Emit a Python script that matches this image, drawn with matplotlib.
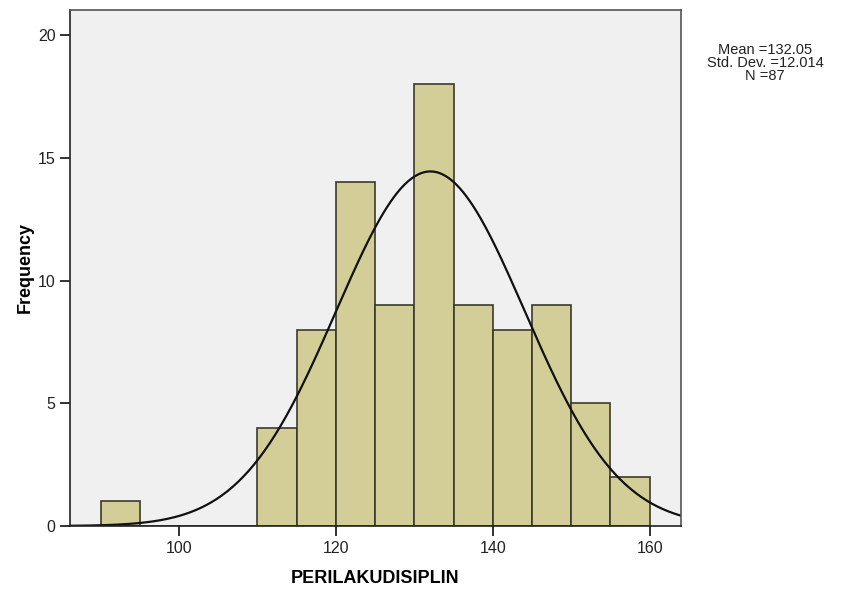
import numpy as np
import matplotlib
matplotlib.use("Agg")
import matplotlib.pyplot as plt

plt.rcParams['font.family'] = ['Liberation Sans', 'DejaVu Sans']

# histogram bins (width 5) and counts
bin_edges = [90, 95, 100, 105, 110, 115, 120, 125, 130, 135, 140, 145, 150, 155, 160]
counts = [1, 0, 0, 0, 4, 8, 14, 9, 18, 9, 8, 9, 5, 2]
mean = 132.05
std = 12.014
n = 87

fig = plt.figure(figsize=(8.56, 5.96), dpi=100)
ax = fig.add_axes([0.0818, 0.1174, 0.7138, 0.8666])
ax.set_facecolor('#F0F0F0')

lefts = np.array(bin_edges[:-1])
widths = np.diff(bin_edges)
ax.bar(lefts, counts, width=widths, align='edge', color='#D3CE97',
       edgecolor='#3A3A2A', linewidth=1.2)

# normal curve scaled to counts
bw = 5
xs = np.linspace(80, 170, 400)
ys = n * bw / (std * np.sqrt(2 * np.pi)) * np.exp(-0.5 * ((xs - mean) / std) ** 2)
ax.plot(xs, ys, color='#111111', lw=1.6)

ax.set_xlim(86.1, 164.0)
ax.set_ylim(0, 21.04)
ax.set_xticks([100, 120, 140, 160])
ax.set_yticks([0, 5, 10, 15, 20])
ax.tick_params(direction='out', length=7, width=1.3, labelsize=11.5, color='#222222', labelcolor='#222222')
for s in ax.spines.values():
    s.set_color('#555555')
    s.set_linewidth(1.2)
ax.spines['left'].set_color('#222222')
ax.spines['bottom'].set_color('#222222')

ax.set_xlabel('PERILAKUDISIPLIN', fontsize=13, fontweight='bold', labelpad=10)
ax.set_ylabel('Frequency', fontsize=13, fontweight='bold', labelpad=3)

fig.text(765 / 856, 1 - 63 / 596, 'Mean =%.2f\nStd. Dev. =%.3f\nN =%d' % (mean, std, n),
         ha='center', va='center', fontsize=10.5, linespacing=0.95, color='#222222')

fig.savefig('out.png', dpi=100)
